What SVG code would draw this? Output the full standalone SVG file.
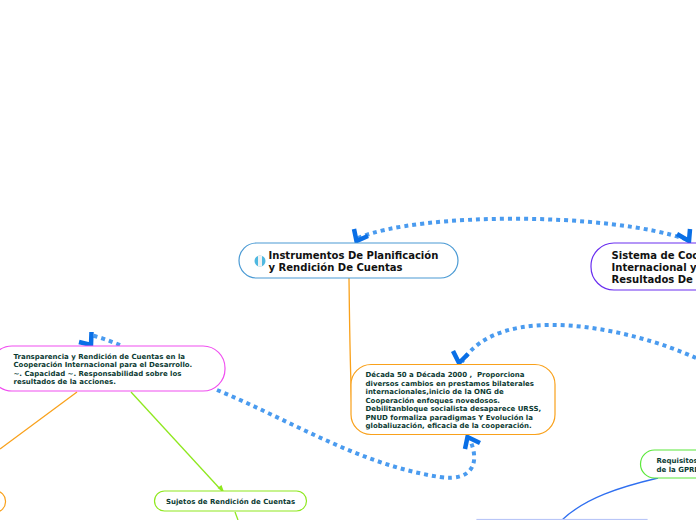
<svg xmlns="http://www.w3.org/2000/svg" width="696" height="520" viewBox="0 0 696 520">
<style>
.n{fill:#fff;stroke-width:1.2}
.l{fill:none;stroke-width:1.3}
.d{fill:none;stroke:#4a9bef;stroke-width:4;stroke-dasharray:4 4}
.a{fill:none;stroke:#0a6fe6;stroke-width:4.500}
.t1{font:bold 10.05px "DejaVu Sans",Verdana,sans-serif;fill:#111}
.t2{font:bold 6.98px "DejaVu Sans",Verdana,sans-serif;fill:#0c3b33}
</style>
<g id="connectors">
<path class="l" stroke="#f9a11b" d="M349 278C349.500 320 350 370 352 410"/>
<path class="l" stroke="#f9a11b" d="M77 392L0 449"/>
<path class="l" stroke="#8fe81f" d="M131 392L222 491"/>
<path d="M217.500 488L224 492L221.500 485Z" fill="#8fe81f"/>
<path class="l" stroke="#8fe81f" d="M235 512L238 520"/>
<path class="l" stroke="#2f6ff0" d="M658 478C620 487 585 498 562 520"/>
<path class="d" d="M358 238C420 212 610 212 688 240"/>
<path class="d" d="M696 358C630 328 500 300 462 362"/>
<path class="d" d="M217 390C290 420 360 465 440 477C475 482 480 460 469 438"/>
<path class="d" d="M120 345C110 341 100 337 90 335"/>
<path class="a" d="M354 229L356.500 241L368 236"/>
<path class="a" d="M677 234L689 241L690 229"/>
<path class="a" d="M453 351L459 363L468 354"/>
<path class="a" d="M465 449L467.500 437L480 443"/>
<path class="a" d="M79 342L91 345L91.500 332"/>
</g>
<g id="node-instrumentos">
<rect class="n" stroke="#4a9ad4" x="239" y="243" width="219" height="35" rx="17.500"/>
<circle cx="260" cy="261" r="5.500" fill="#4fb8e0"/>
<rect x="258" y="255.500" width="4" height="11" fill="#f2f2f2"/>
<text class="t1"><tspan x="268.500" y="259">Instrumentos De Planificación</tspan><tspan x="268.500" y="271">y Rendición De Cuentas</tspan></text>
</g>
<g id="node-sistema">
<rect class="n" stroke="#6a2ff0" x="591" y="243" width="160" height="47" rx="23"/>
<text class="t1"><tspan x="611.500" y="259">Sistema de Coo</tspan><tspan x="611.500" y="271">Internacional y</tspan><tspan x="611.500" y="283">Resultados De</tspan></text>
</g>
<g id="node-transparencia">
<rect class="n" stroke="#f04ff0" x="-10" y="346" width="235" height="45" rx="22"/>
<text class="t2"><tspan x="13.500" y="359">Transparencia y Rendición de Cuentas en la</tspan><tspan x="13.500" y="367">Cooperación Internacional para el Desarrollo.</tspan><tspan x="13.500" y="376">~. Capacidad ~. Responsabilidad sobre los</tspan><tspan x="13.500" y="384">resultados de la acciones.</tspan></text>
</g>
<g id="node-decada">
<rect class="n" stroke="#f9a11b" x="351" y="364.500" width="204" height="70" rx="20"/>
<text class="t2"><tspan x="365.500" y="377">Década 50 a Década 2000 , &#160;Proporciona</tspan><tspan x="365.500" y="386">diversos cambios en prestamos bilaterales</tspan><tspan x="365.500" y="394">internacionales,inicio de la ONG de</tspan><tspan x="365.500" y="403">Cooperación enfoques novedosos.</tspan><tspan x="365.500" y="411">Debilitanbloque socialista desaparece URSS,</tspan><tspan x="365.500" y="420">PNUD formaliza paradigmas Y Evolución la</tspan><tspan x="365.500" y="428">globaliuzación, eficacia de la cooperación.</tspan></text>
</g>
<g id="node-sujetos">
<rect class="n" stroke="#8fe81f" x="154.500" y="491" width="152" height="20" rx="10"/>
<text class="t2" x="166" y="504">Sujetos de Rendición de Cuentas</text>
</g>
<g id="node-requisitos">
<rect class="n" stroke="#5be83a" x="640.500" y="450" width="100" height="28" rx="14"/>
<text class="t2"><tspan x="656.500" y="463">Requisitos</tspan><tspan x="656.500" y="472">de la GPRD</tspan></text>
</g>
<g id="node-orange-left">
<rect class="n" stroke="#f9a11b" x="-40" y="491" width="45.500" height="21" rx="10"/>
</g>
<g id="node-bottom">
<rect class="n" stroke="#b9c6f7" x="477" y="519.500" width="170" height="20"/>
</g>
</svg>
